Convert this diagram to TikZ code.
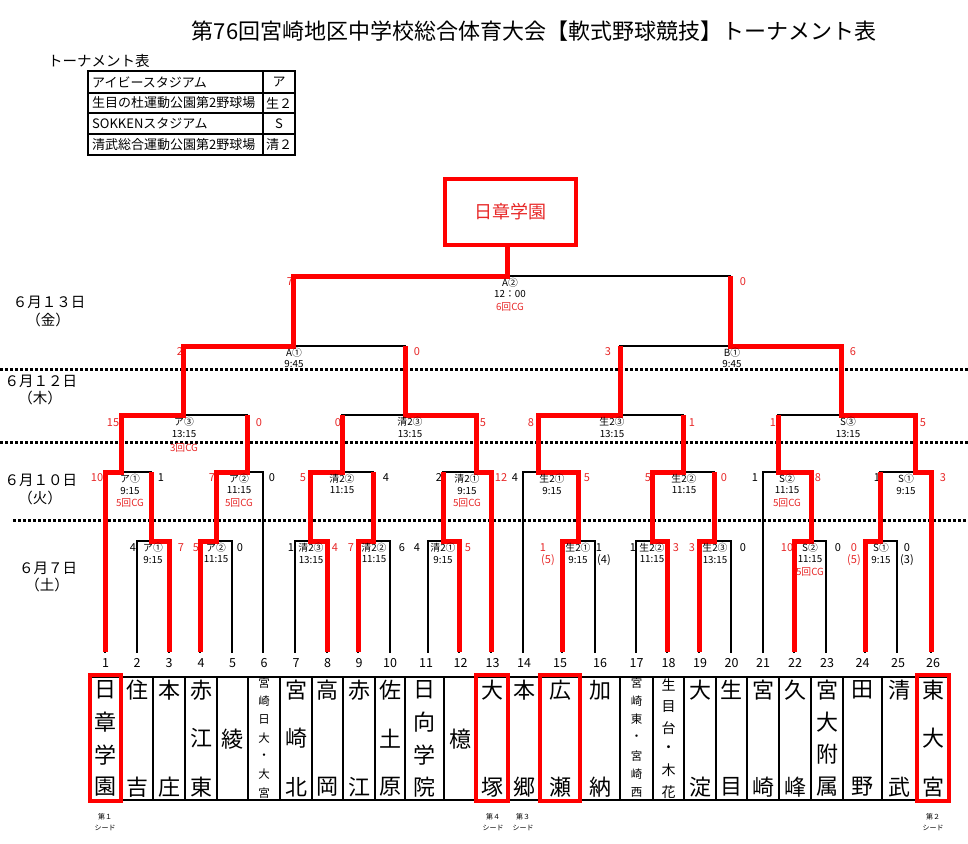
\documentclass[tikz,border=0pt]{standalone}
\usepackage{fontspec}
\setmainfont{Noto Sans CJK JP}
\definecolor{lred}{RGB}{255,0,0}
\definecolor{tred}{RGB}{232,40,40}
\newcommand\vnm[5][nm]{\foreach \ch [count=\i] in {#5}{\pgfmathsetmacro\yy{#3+(\i-1)*#4}\node[#1] at (#2,\yy) {\ch};}}
\newcommand\mlab[4]{\node[lbl] at (#1,#2+7) {#3};\node[lbl] at (#1,#2+18.5) {#4};}
\newcommand\cg[3]{\node[lbl,text=tred] at (#1,#2+30.5) {#3};}
\begin{document}
\begin{tikzpicture}[x=1pt,y=-1pt,
 bk/.style={black,line width=1.8pt,line cap=rect},
 rl/.style={lred,line width=5pt,line join=miter},
 lbl/.style={inner sep=0pt,font=\fontsize{9.8}{9.8}\selectfont},
 sc/.style={inner sep=0pt,font=\fontsize{11}{11}\selectfont},
 nm/.style={inner sep=0pt,font=\fontsize{22}{22}\selectfont},
 nms/.style={inner sep=0pt,font=\fontsize{11.5}{11.5}\selectfont},
 nmm/.style={inner sep=0pt,font=\fontsize{14}{14}\selectfont},
 num/.style={inner sep=0pt,font=\fontsize{12.5}{12.5}\selectfont},
 tb/.style={inner sep=0pt,font=\fontsize{13}{13}\selectfont},
 dt/.style={inner sep=0pt,font=\fontsize{14.5}{14.5}\selectfont},
 seedlbl/.style={inner sep=0pt,align=center,font=\fontsize{7}{11}\selectfont},
 dayline/.style={black,line width=3pt,dash pattern=on 3pt off 2pt}]
\useasboundingbox (0,0) rectangle (968,843);
\fill[white] (0,0) rectangle (968,843);
% title
\node[inner sep=0pt,font=\fontsize{22}{22}\selectfont] (title) at (534,31) {第76回宮崎地区中学校総合体育大会【軟式野球競技】トーナメント表};
% legend
\node[inner sep=0pt,font=\fontsize{14.5}{14.5}\selectfont,anchor=west] (lgtitle) at (48,61) {トーナメント表};
\draw[line width=1.8pt] (88,71) rectangle (295,155);
\draw[line width=1.5pt] (88,93)--(295,93) (88,113)--(295,113) (88,134)--(295,134) (263,71)--(263,155);
\node[tb,anchor=west] (lg1) at (92,82) {アイビースタジアム};
\node[tb,anchor=west] (lg2) at (92,103) {生目の杜運動公園第2野球場};
\node[tb,anchor=west] (lg3) at (92,123.5) {SOKKENスタジアム};
\node[tb,anchor=west] (lg4) at (92,144.5) {清武総合運動公園第2野球場};
\node[tb] (lc1) at (279,82) {ア};
\node[tb] (lc2) at (279,103) {生２};
\node[tb] (lc3) at (279,123.5) {S};
\node[tb] (lc4) at (279,144.5) {清２};
% dates
\node[dt] (d13) at (49,302) {６月１３日};
\node[dt] (d13w) at (48,320) {（金）};
\node[dt] (d12) at (41,381) {６月１２日};
\node[dt] (d12w) at (40,398) {（木）};
\node[dt] (d10) at (41,480) {６月１０日};
\node[dt] (d10w) at (40,498) {（火）};
\node[dt] (d7) at (48,568) {６月７日};
\node[dt] (d7w) at (47,585) {（土）};
% day separators
\draw[dayline] (0,369)--(968,369);
\draw[dayline] (0,442)--(968,442);
\draw[dayline] (13,520)--(968,520);
% team base coordinates
\foreach \n/\x in {1/105,2/137,3/169,4/200,5/232,6/263,7/295,8/327,9/358,10/390,11/428,12/459,13/491,14/523,15/562,16/595,17/636,18/667,19/699,20/731,21/763,22/794,23/826,24/865,25/897,26/931}
  \coordinate (t\n) at (\x,652);
% black bracket
\foreach \x/\y in {105/472,137/541,169/541,200/541,232/541,263/472,295/541,327/541,358/541,390/541,428/541,459/541,491/472,523/472,562/541,595/541,636/541,667/541,699/541,731/541,763/472,794/541,826/541,865/541,897/541,931/472}
  \draw[bk] (\x,652)--(\x,\y);
\foreach \a/\b/\s in {137/169/151,200/232/216,295/327/310,358/390/373,428/459/443,562/595/578,636/667/652,699/731/714,794/826/811,865/897/880}
  {\draw[bk] (\a,541)--(\b,541); \draw[bk] (\s,541)--(\s,472);}
\foreach \a/\b/\s in {105/151/121,216/263/247,310/373/342,443/491/476,523/578/538,652/714/683,763/811/778,880/931/915}
  {\draw[bk] (\a,472)--(\b,472); \draw[bk] (\s,472)--(\s,415);}
\foreach \a/\b/\s in {121/247/183,342/476/405,538/683/620,778/915/841}
  {\draw[bk] (\a,415)--(\b,415); \draw[bk] (\s,415)--(\s,346);}
\foreach \a/\b/\s in {183/405/293,620/841/730}
  {\draw[bk] (\a,346)--(\b,346); \draw[bk] (\s,346)--(\s,276);}
\draw[bk] (293,276)--(730,276);
% scores black
\foreach \x/\y/\t in {133/548/4,240/548/0,291/548/1,402/548/6,417/548/4,599/548/1,633/548/1,743/548/0,838/548/0,907/548/0,604/560/(4),907/560/(3),161/478/1,272/478/0,386/478/4,439/478/2,515/478/4,755/478/1,877/478/1}
  \node[sc] at (\x,\y) {\t};
% scores red
\foreach \x/\y/\t in {181/548/7,196/548/5,335/548/4,351/548/7,468/548/5,543/548/1,676/548/3,692/548/3,787/548/10,854/548/0,548/560/(5),854/560/(5),97/478/10,212/478/7,303/478/5,501/478/12,587/478/5,648/478/5,724/478/0,818/478/8,943/478/3,113/423/15,259/423/0,338/423/0,483/423/5,531/423/8,692/423/1,773/423/1,923/423/5,180/352/2,417/352/0,608/352/3,853/352/6,290/282/7,743/282/0}
  \node[sc,text=tred] at (\x,\y) {\t};
% champion box
\node[draw=lred,line width=4.5pt,minimum width=131pt,minimum height=66pt,inner sep=0pt,text=tred,font=\fontsize{18}{18}\selectfont] (champ) at (510.5,212) {日章学園};
% red winner paths
\draw[rl] (t1)--(105,472)--(121,472)--(121,415)--(183,415)--(183,346)--(293,346)--(293,276)--(507,276)--(507,244);
\draw[rl] (t3)--(169,541)--(151,541)--(151,472);
\draw[rl] (t4)--(200,541)--(216,541)--(216,472)--(247,472)--(247,415);
\draw[rl] (t8)--(327,541)--(310,541)--(310,472)--(342,472)--(342,415);
\draw[rl] (t9)--(358,541)--(373,541)--(373,472);
\draw[rl] (t12)--(459,541)--(443,541)--(443,472);
\draw[rl] (t13)--(491,472)--(476,472)--(476,415)--(405,415)--(405,346);
\draw[rl] (t15)--(562,541)--(578,541)--(578,472)--(538,472)--(538,415)--(620,415)--(620,346);
\draw[rl] (t18)--(667,541)--(652,541)--(652,472)--(683,472)--(683,415);
\draw[rl] (t19)--(699,541)--(714,541)--(714,472);
\draw[rl] (t22)--(794,541)--(811,541)--(811,472)--(778,472)--(778,415);
\draw[rl] (t24)--(865,541)--(880,541)--(880,472);
\draw[rl] (t26)--(931,472)--(915,472)--(915,415)--(841,415)--(841,346)--(730,346)--(730,276);
% match labels round 1
\mlab{153}{541}{ア①}{9:15}
\mlab{216}{541}{ア②}{11:15}
\mlab{311}{541}{清2③}{13:15}
\mlab{374}{541}{清2②}{11:15}
\mlab{443}{541}{清2①}{9:15}
\mlab{578}{541}{生2①}{9:15}
\mlab{652}{541}{生2②}{11:15}
\mlab{715}{541}{生2③}{13:15}
\mlab{810}{541}{S②}{11:15}\cg{810}{541}{5回CG}
\mlab{881}{541}{S①}{9:15}
% round 2
\mlab{130}{472}{ア①}{9:15}\cg{130}{472}{5回CG}
\mlab{239}{472}{ア②}{11:15}\cg{239}{472}{5回CG}
\mlab{342}{472}{清2②}{11:15}
\mlab{467}{472}{清2①}{9:15}\cg{467}{472}{5回CG}
\mlab{552}{472}{生2①}{9:15}
\mlab{684}{472}{生2②}{11:15}
\mlab{787}{472}{S②}{11:15}\cg{787}{472}{5回CG}
\mlab{906}{472}{S①}{9:15}
% quarter finals
\mlab{184}{415}{ア③}{13:15}\cg{184}{417}{3回CG}
\mlab{410}{415}{清2③}{13:15}
\mlab{612}{415}{生2③}{13:15}
\mlab{848}{415}{S③}{13:15}
% semi finals and final
\mlab{294}{346}{A①}{9:45}
\mlab{732}{346}{B①}{9:45}
\mlab{510}{276}{A②}{12：00}\cg{510}{276}{6回CG}
% team numbers
\foreach \n/\x in {1/105.5,2/137,3/169,4/201,5/232.5,6/264,7/296,8/327.5,9/359,10/390,11/426,12/460.5,13/492.5,14/524,15/560,16/600,17/636.5,18/668.5,19/700,20/731.5,21/763,22/795,23/827,24/862.5,25/898,26/933}
  \node[num] (n\n) at (\x,663) {\n};
% name boxes
\draw[line width=1.3pt] (90,677) rectangle (949,800);
\foreach \x in {121,153,185,217,248,280,312,343,375,405,444,477,508,540,580,620,653,684,716,747,779,811,843,882,917}
  \draw[line width=1.3pt] (\x,677)--(\x,800);
\vnm{105.5}{690}{32.3}{日,章,学,園}
\vnm{137}{690}{97}{住,吉}
\vnm{169}{690}{97}{本,庄}
\vnm{201}{690}{48.5}{赤,江,東}
\vnm{232.5}{739}{0}{綾}
\vnm[nms]{264}{683}{18.3}{宮,崎,日,大,・,大,宮}
\vnm{296}{690}{48.5}{宮,崎,北}
\vnm{327.5}{690}{97}{高,岡}
\vnm{359}{690}{97}{赤,江}
\vnm{390}{690}{48.5}{佐,土,原}
\vnm{424.5}{690}{32.3}{日,向,学,院}
\vnm{460.5}{739}{0}{檍}
\vnm{492.5}{690}{97}{大,塚}
\vnm{524}{690}{97}{本,郷}
\vnm{560}{690}{97}{広,瀬}
\vnm{600}{690}{97}{加,納}
\vnm[nms]{636.5}{683}{18.3}{宮,崎,東,・,宮,崎,西}
\vnm[nmm]{668.5}{685}{21.4}{生,目,台,・,木,花}
\vnm{700}{690}{97}{大,淀}
\vnm{731.5}{690}{97}{生,目}
\vnm{763}{690}{97}{宮,崎}
\vnm{795}{690}{97}{久,峰}
\vnm{827}{690}{32.3}{宮,大,附,属}
\vnm{862.5}{690}{97}{田,野}
\vnm{899.5}{690}{97}{清,武}
\vnm{933}{690}{48.5}{東,大,宮}
% seed boxes
\draw[lred,line width=4pt] (90,675) rectangle (121,801);
\draw[lred,line width=4pt] (476,675) rectangle (508,801);
\draw[lred,line width=4pt] (540,675) rectangle (580,801);
\draw[lred,line width=4pt] (917,675) rectangle (949,801);
% seed labels
\node[seedlbl] (s1) at (105,822) {第１\\シード};
\node[seedlbl] (s4) at (493,822) {第４\\シード};
\node[seedlbl] (s3) at (523,822) {第３\\シード};
\node[seedlbl] (s2) at (933,822) {第２\\シード};
\end{tikzpicture}
\end{document}
